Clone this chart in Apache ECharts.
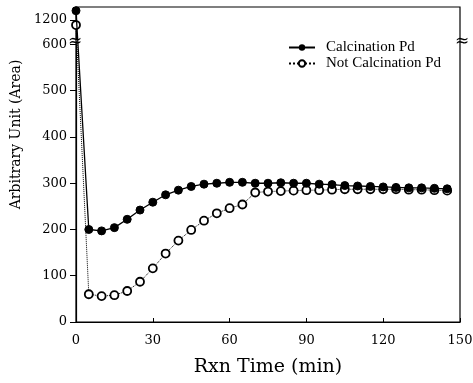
<!DOCTYPE html>
<html><head><meta charset="utf-8">
<script src="https://cdn.jsdelivr.net/npm/echarts@6/dist/echarts.min.js"></script>
<style>html,body{margin:0;padding:0;background:#fff}#c{width:473px;height:383px}</style>
</head><body><div id="c"></div>
<script>
var times = [0,5,10,15,20,25,30,35,40,45,50,55,60,65,70,75,80,85,90,95,100,105,110,115,120,125,130,135,140,145];
var calcined = [1220,200,197,204,222,242,259,275,285,293,298,300,302,302,300,300,301,300,300,298,297,295,294,293,292,291,290,290,289,288];
var notCalcined = [1189,60,56,58,67,87,116,148,176,199,219,235,246,254,280,282,283,284,285,285,286,287,287,287,287,287,286,286,285,284];
var xTicks = [0,30,60,90,120,150];
var yTicks = [0,100,200,300,400,500,600,1200];
var seriesNames = ['Calcination Pd','Not Calcination Pd'];

var font = 'DejaVu Serif';
var legendFont = 'Liberation Serif';
function pairs(v){ return times.map(function(t,i){ return [t, v[i]]; }); }

var chart = echarts.init(document.getElementById('c'), null, {renderer:'canvas'});
chart.setOption({
  backgroundColor:'#fff',
  animation:false,
  grid:{left:76, right:13, top:7, bottom:61, show:true, borderColor:'#000', borderWidth:1.2,
        outerBoundsMode:'none', containLabel:false},
  legend:{
    orient:'vertical', left:283, top:35, itemWidth:26, itemHeight:8, itemGap:1,
    textStyle:{fontFamily:legendFont, fontSize:15, color:'#000', padding:[0,0,0,6]},
    data:seriesNames
  },
  xAxis:{
    type:'value', min:0, max:150, interval:30,
    name:'Rxn Time (min)', nameLocation:'middle', nameGap:36,
    nameTextStyle:{fontFamily:font, fontSize:19, color:'#000'},
    axisLine:{lineStyle:{color:'#000', width:1.2}},
    axisTick:{inside:true, length:4, lineStyle:{color:'#000'}, customValues:xTicks},
    axisLabel:{fontFamily:font, fontSize:13, color:'#000', margin:12, customValues:xTicks,
      formatter:function(v){return String(v);}},
    splitLine:{show:false}
  },
  yAxis:{
    type:'value', min:0, max:1228,
    breaks:[{start:600, end:1160, gap:13}],
    breakArea:{show:false},
    name:'Arbitrary Unit (Area)', nameLocation:'middle', nameGap:52,
    nameTextStyle:{fontFamily:font, fontSize:14, color:'#000', padding:[0,0,0,60]},
    axisLine:{show:true, lineStyle:{color:'#000', width:1.2}},
    axisTick:{show:true, length:6, lineStyle:{color:'#000'}, customValues:yTicks},
    axisLabel:{fontFamily:font, fontSize:13, color:'#000', margin:9, customValues:yTicks,
      formatter:function(v){return String(v);}},
    splitLine:{show:false}
  },
  graphic:[
    {type:'text', left:68, top:33, style:{text:'≈', fontFamily:font, fontSize:17, fill:'#000'}},
    {type:'text', left:455, top:33, style:{text:'≈', fontFamily:font, fontSize:17, fill:'#000'}}
  ],
  series:[
    {name:seriesNames[0], type:'line', data:pairs(calcined), symbol:'circle', symbolSize:8,
     itemStyle:{color:'#000', borderColor:'#000'}, lineStyle:{color:'#000', width:1.3}, z:3},
    {name:seriesNames[1], type:'line', data:pairs(notCalcined), symbol:'circle', symbolSize:8,
     itemStyle:{color:'#fff', borderColor:'#000', borderWidth:1.8}, lineStyle:{color:'#000', width:1, type:'dotted'}, z:2}
  ]
});
</script></body></html>
